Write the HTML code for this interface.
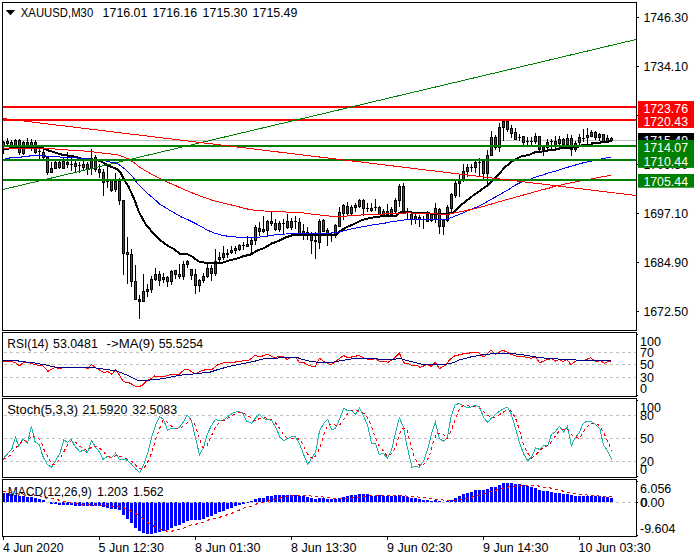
<!DOCTYPE html>
<html><head><meta charset="utf-8"><title>XAUUSD M30</title>
<style>html,body{margin:0;padding:0;background:#fff;}svg{display:block;}</style></head>
<body>
<svg width="700" height="560" viewBox="0 0 700 560" font-family="Liberation Sans, sans-serif" font-size="12.5px">
<rect x="0" y="0" width="700" height="560" fill="#fff"/>
<g shape-rendering="crispEdges">
<rect x="3" y="140" width="633" height="1" fill="#c0c0c0"/>
</g>
<g shape-rendering="crispEdges">
<rect x="3" y="141" width="1" height="7" fill="#000"/>
<rect x="3" y="142" width="2" height="5" fill="#000"/>
<rect x="3" y="143" width="1" height="3" fill="#ff0000"/>
<rect x="7" y="138" width="1" height="7" fill="#000"/>
<rect x="6" y="141" width="3" height="3" fill="#000"/>
<rect x="7" y="142" width="1" height="1" fill="#008000"/>
<rect x="11" y="140" width="1" height="6" fill="#000"/>
<rect x="10" y="142" width="3" height="4" fill="#000"/>
<rect x="11" y="143" width="1" height="2" fill="#ff0000"/>
<rect x="15" y="139" width="1" height="7" fill="#000"/>
<rect x="14" y="140" width="3" height="6" fill="#000"/>
<rect x="15" y="141" width="1" height="4" fill="#008000"/>
<rect x="19" y="139" width="1" height="16" fill="#000"/>
<rect x="18" y="140" width="3" height="13" fill="#000"/>
<rect x="19" y="141" width="1" height="11" fill="#ff0000"/>
<rect x="23" y="141" width="1" height="14" fill="#000"/>
<rect x="22" y="142" width="3" height="12" fill="#000"/>
<rect x="23" y="143" width="1" height="10" fill="#008000"/>
<rect x="27" y="138" width="1" height="8" fill="#000"/>
<rect x="26" y="142" width="3" height="4" fill="#000"/>
<rect x="27" y="143" width="1" height="2" fill="#ff0000"/>
<rect x="31" y="139" width="1" height="12" fill="#000"/>
<rect x="30" y="142" width="3" height="4" fill="#000"/>
<rect x="31" y="143" width="1" height="2" fill="#008000"/>
<rect x="35" y="140" width="1" height="14" fill="#000"/>
<rect x="34" y="142" width="3" height="11" fill="#000"/>
<rect x="35" y="143" width="1" height="9" fill="#ff0000"/>
<rect x="39" y="148" width="1" height="12" fill="#000"/>
<rect x="38" y="151" width="3" height="1" fill="#000"/>
<rect x="43" y="149" width="1" height="10" fill="#000"/>
<rect x="42" y="152" width="3" height="6" fill="#000"/>
<rect x="43" y="153" width="1" height="4" fill="#ff0000"/>
<rect x="47" y="156" width="1" height="19" fill="#000"/>
<rect x="46" y="157" width="3" height="16" fill="#000"/>
<rect x="47" y="158" width="1" height="14" fill="#ff0000"/>
<rect x="51" y="162" width="1" height="11" fill="#000"/>
<rect x="50" y="168" width="3" height="5" fill="#000"/>
<rect x="51" y="169" width="1" height="3" fill="#008000"/>
<rect x="55" y="161" width="1" height="8" fill="#000"/>
<rect x="54" y="162" width="3" height="7" fill="#000"/>
<rect x="55" y="163" width="1" height="5" fill="#008000"/>
<rect x="59" y="161" width="1" height="8" fill="#000"/>
<rect x="58" y="162" width="3" height="6" fill="#000"/>
<rect x="59" y="163" width="1" height="4" fill="#ff0000"/>
<rect x="63" y="158" width="1" height="11" fill="#000"/>
<rect x="62" y="161" width="3" height="8" fill="#000"/>
<rect x="63" y="162" width="1" height="6" fill="#008000"/>
<rect x="67" y="152" width="1" height="16" fill="#000"/>
<rect x="66" y="162" width="3" height="3" fill="#000"/>
<rect x="67" y="163" width="1" height="1" fill="#ff0000"/>
<rect x="71" y="158" width="1" height="13" fill="#000"/>
<rect x="70" y="164" width="3" height="1" fill="#000"/>
<rect x="75" y="161" width="1" height="11" fill="#000"/>
<rect x="74" y="163" width="3" height="4" fill="#000"/>
<rect x="75" y="164" width="1" height="2" fill="#ff0000"/>
<rect x="79" y="162" width="1" height="11" fill="#000"/>
<rect x="78" y="165" width="3" height="1" fill="#000"/>
<rect x="83" y="161" width="1" height="10" fill="#000"/>
<rect x="82" y="164" width="3" height="4" fill="#000"/>
<rect x="83" y="165" width="1" height="2" fill="#008000"/>
<rect x="87" y="162" width="1" height="13" fill="#000"/>
<rect x="86" y="164" width="3" height="6" fill="#000"/>
<rect x="87" y="165" width="1" height="4" fill="#ff0000"/>
<rect x="91" y="149" width="1" height="26" fill="#000"/>
<rect x="90" y="158" width="3" height="11" fill="#000"/>
<rect x="91" y="159" width="1" height="9" fill="#008000"/>
<rect x="95" y="155" width="1" height="17" fill="#000"/>
<rect x="94" y="157" width="3" height="13" fill="#000"/>
<rect x="95" y="158" width="1" height="11" fill="#ff0000"/>
<rect x="99" y="164" width="1" height="14" fill="#000"/>
<rect x="98" y="169" width="3" height="4" fill="#000"/>
<rect x="99" y="170" width="1" height="2" fill="#ff0000"/>
<rect x="103" y="169" width="1" height="27" fill="#000"/>
<rect x="102" y="172" width="3" height="11" fill="#000"/>
<rect x="103" y="173" width="1" height="9" fill="#ff0000"/>
<rect x="107" y="166" width="1" height="22" fill="#000"/>
<rect x="106" y="181" width="3" height="1" fill="#000"/>
<rect x="111" y="180" width="1" height="12" fill="#000"/>
<rect x="110" y="180" width="3" height="11" fill="#000"/>
<rect x="111" y="181" width="1" height="9" fill="#ff0000"/>
<rect x="115" y="173" width="1" height="19" fill="#000"/>
<rect x="114" y="181" width="3" height="9" fill="#000"/>
<rect x="115" y="182" width="1" height="7" fill="#008000"/>
<rect x="119" y="178" width="1" height="27" fill="#000"/>
<rect x="118" y="181" width="3" height="20" fill="#000"/>
<rect x="119" y="182" width="1" height="18" fill="#ff0000"/>
<rect x="123" y="200" width="1" height="75" fill="#000"/>
<rect x="122" y="200" width="3" height="54" fill="#000"/>
<rect x="123" y="201" width="1" height="52" fill="#ff0000"/>
<rect x="127" y="237" width="1" height="47" fill="#000"/>
<rect x="126" y="252" width="3" height="3" fill="#000"/>
<rect x="127" y="253" width="1" height="1" fill="#ff0000"/>
<rect x="131" y="249" width="1" height="38" fill="#000"/>
<rect x="130" y="254" width="3" height="28" fill="#000"/>
<rect x="131" y="255" width="1" height="26" fill="#ff0000"/>
<rect x="135" y="265" width="1" height="35" fill="#000"/>
<rect x="134" y="281" width="3" height="19" fill="#000"/>
<rect x="135" y="282" width="1" height="17" fill="#ff0000"/>
<rect x="139" y="295" width="1" height="24" fill="#000"/>
<rect x="138" y="299" width="3" height="3" fill="#000"/>
<rect x="139" y="300" width="1" height="1" fill="#ff0000"/>
<rect x="143" y="274" width="1" height="28" fill="#000"/>
<rect x="142" y="291" width="3" height="11" fill="#000"/>
<rect x="143" y="292" width="1" height="9" fill="#008000"/>
<rect x="147" y="284" width="1" height="13" fill="#000"/>
<rect x="146" y="289" width="3" height="3" fill="#000"/>
<rect x="147" y="290" width="1" height="1" fill="#008000"/>
<rect x="151" y="276" width="1" height="17" fill="#000"/>
<rect x="150" y="279" width="3" height="11" fill="#000"/>
<rect x="151" y="280" width="1" height="9" fill="#008000"/>
<rect x="155" y="268" width="1" height="13" fill="#000"/>
<rect x="154" y="274" width="3" height="6" fill="#000"/>
<rect x="155" y="275" width="1" height="4" fill="#008000"/>
<rect x="159" y="271" width="1" height="15" fill="#000"/>
<rect x="158" y="274" width="3" height="7" fill="#000"/>
<rect x="159" y="275" width="1" height="5" fill="#ff0000"/>
<rect x="163" y="273" width="1" height="10" fill="#000"/>
<rect x="162" y="277" width="3" height="3" fill="#000"/>
<rect x="163" y="278" width="1" height="1" fill="#008000"/>
<rect x="167" y="276" width="1" height="11" fill="#000"/>
<rect x="166" y="277" width="3" height="5" fill="#000"/>
<rect x="167" y="278" width="1" height="3" fill="#ff0000"/>
<rect x="171" y="270" width="1" height="15" fill="#000"/>
<rect x="170" y="271" width="3" height="11" fill="#000"/>
<rect x="171" y="272" width="1" height="9" fill="#008000"/>
<rect x="175" y="270" width="1" height="9" fill="#000"/>
<rect x="174" y="270" width="3" height="5" fill="#000"/>
<rect x="175" y="271" width="1" height="3" fill="#ff0000"/>
<rect x="179" y="264" width="1" height="15" fill="#000"/>
<rect x="178" y="274" width="3" height="3" fill="#000"/>
<rect x="179" y="275" width="1" height="1" fill="#ff0000"/>
<rect x="183" y="261" width="1" height="19" fill="#000"/>
<rect x="182" y="264" width="3" height="13" fill="#000"/>
<rect x="183" y="265" width="1" height="11" fill="#008000"/>
<rect x="187" y="260" width="1" height="8" fill="#000"/>
<rect x="186" y="261" width="3" height="4" fill="#000"/>
<rect x="187" y="262" width="1" height="2" fill="#008000"/>
<rect x="191" y="269" width="1" height="11" fill="#000"/>
<rect x="190" y="269" width="3" height="7" fill="#000"/>
<rect x="191" y="270" width="1" height="5" fill="#ff0000"/>
<rect x="195" y="269" width="1" height="25" fill="#000"/>
<rect x="194" y="274" width="3" height="12" fill="#000"/>
<rect x="195" y="275" width="1" height="10" fill="#ff0000"/>
<rect x="199" y="279" width="1" height="13" fill="#000"/>
<rect x="198" y="280" width="3" height="6" fill="#000"/>
<rect x="199" y="281" width="1" height="4" fill="#008000"/>
<rect x="203" y="273" width="1" height="10" fill="#000"/>
<rect x="202" y="276" width="3" height="5" fill="#000"/>
<rect x="203" y="277" width="1" height="3" fill="#008000"/>
<rect x="207" y="264" width="1" height="14" fill="#000"/>
<rect x="206" y="268" width="3" height="9" fill="#000"/>
<rect x="207" y="269" width="1" height="7" fill="#008000"/>
<rect x="211" y="265" width="1" height="16" fill="#000"/>
<rect x="210" y="268" width="3" height="6" fill="#000"/>
<rect x="211" y="269" width="1" height="4" fill="#ff0000"/>
<rect x="215" y="249" width="1" height="27" fill="#000"/>
<rect x="214" y="261" width="3" height="13" fill="#000"/>
<rect x="215" y="262" width="1" height="11" fill="#008000"/>
<rect x="219" y="252" width="1" height="10" fill="#000"/>
<rect x="218" y="257" width="3" height="3" fill="#000"/>
<rect x="219" y="258" width="1" height="1" fill="#008000"/>
<rect x="223" y="246" width="1" height="14" fill="#000"/>
<rect x="222" y="253" width="3" height="5" fill="#000"/>
<rect x="223" y="254" width="1" height="3" fill="#008000"/>
<rect x="227" y="249" width="1" height="9" fill="#000"/>
<rect x="226" y="253" width="3" height="2" fill="#000"/>
<rect x="231" y="246" width="1" height="8" fill="#000"/>
<rect x="230" y="250" width="3" height="3" fill="#000"/>
<rect x="231" y="251" width="1" height="1" fill="#008000"/>
<rect x="235" y="246" width="1" height="8" fill="#000"/>
<rect x="234" y="248" width="3" height="3" fill="#000"/>
<rect x="235" y="249" width="1" height="1" fill="#008000"/>
<rect x="239" y="244" width="1" height="7" fill="#000"/>
<rect x="238" y="245" width="3" height="5" fill="#000"/>
<rect x="239" y="246" width="1" height="3" fill="#008000"/>
<rect x="243" y="242" width="1" height="8" fill="#000"/>
<rect x="242" y="245" width="3" height="1" fill="#000"/>
<rect x="247" y="236" width="1" height="11" fill="#000"/>
<rect x="246" y="244" width="3" height="3" fill="#000"/>
<rect x="247" y="245" width="1" height="1" fill="#008000"/>
<rect x="251" y="238" width="1" height="17" fill="#000"/>
<rect x="250" y="240" width="3" height="5" fill="#000"/>
<rect x="251" y="241" width="1" height="3" fill="#008000"/>
<rect x="255" y="225" width="1" height="20" fill="#000"/>
<rect x="254" y="227" width="3" height="14" fill="#000"/>
<rect x="255" y="228" width="1" height="12" fill="#008000"/>
<rect x="259" y="222" width="1" height="14" fill="#000"/>
<rect x="258" y="228" width="3" height="4" fill="#000"/>
<rect x="259" y="229" width="1" height="2" fill="#ff0000"/>
<rect x="263" y="216" width="1" height="17" fill="#000"/>
<rect x="262" y="229" width="3" height="3" fill="#000"/>
<rect x="263" y="230" width="1" height="1" fill="#008000"/>
<rect x="267" y="220" width="1" height="17" fill="#000"/>
<rect x="266" y="221" width="3" height="10" fill="#000"/>
<rect x="267" y="222" width="1" height="8" fill="#008000"/>
<rect x="271" y="212" width="1" height="14" fill="#000"/>
<rect x="270" y="221" width="3" height="3" fill="#000"/>
<rect x="271" y="222" width="1" height="1" fill="#ff0000"/>
<rect x="275" y="219" width="1" height="12" fill="#000"/>
<rect x="274" y="223" width="3" height="7" fill="#000"/>
<rect x="275" y="224" width="1" height="5" fill="#ff0000"/>
<rect x="279" y="221" width="1" height="11" fill="#000"/>
<rect x="278" y="223" width="3" height="7" fill="#000"/>
<rect x="279" y="224" width="1" height="5" fill="#008000"/>
<rect x="283" y="219" width="1" height="16" fill="#000"/>
<rect x="282" y="223" width="3" height="1" fill="#000"/>
<rect x="287" y="214" width="1" height="15" fill="#000"/>
<rect x="286" y="221" width="3" height="7" fill="#000"/>
<rect x="287" y="222" width="1" height="5" fill="#ff0000"/>
<rect x="291" y="218" width="1" height="12" fill="#000"/>
<rect x="290" y="221" width="3" height="7" fill="#000"/>
<rect x="291" y="222" width="1" height="5" fill="#008000"/>
<rect x="295" y="216" width="1" height="13" fill="#000"/>
<rect x="294" y="221" width="3" height="1" fill="#000"/>
<rect x="299" y="218" width="1" height="16" fill="#000"/>
<rect x="298" y="222" width="3" height="12" fill="#000"/>
<rect x="299" y="223" width="1" height="10" fill="#ff0000"/>
<rect x="303" y="224" width="1" height="16" fill="#000"/>
<rect x="302" y="231" width="3" height="3" fill="#000"/>
<rect x="303" y="232" width="1" height="1" fill="#ff0000"/>
<rect x="307" y="227" width="1" height="13" fill="#000"/>
<rect x="306" y="232" width="3" height="4" fill="#000"/>
<rect x="307" y="233" width="1" height="2" fill="#ff0000"/>
<rect x="311" y="232" width="1" height="22" fill="#000"/>
<rect x="310" y="235" width="3" height="6" fill="#000"/>
<rect x="311" y="236" width="1" height="4" fill="#ff0000"/>
<rect x="315" y="232" width="1" height="27" fill="#000"/>
<rect x="314" y="240" width="3" height="2" fill="#000"/>
<rect x="319" y="219" width="1" height="30" fill="#000"/>
<rect x="318" y="221" width="3" height="22" fill="#000"/>
<rect x="319" y="222" width="1" height="20" fill="#008000"/>
<rect x="323" y="219" width="1" height="13" fill="#000"/>
<rect x="322" y="220" width="3" height="12" fill="#000"/>
<rect x="323" y="221" width="1" height="10" fill="#ff0000"/>
<rect x="327" y="228" width="1" height="18" fill="#000"/>
<rect x="326" y="230" width="3" height="5" fill="#000"/>
<rect x="327" y="231" width="1" height="3" fill="#ff0000"/>
<rect x="331" y="232" width="1" height="10" fill="#000"/>
<rect x="330" y="235" width="3" height="1" fill="#000"/>
<rect x="335" y="224" width="1" height="14" fill="#000"/>
<rect x="334" y="225" width="3" height="11" fill="#000"/>
<rect x="335" y="226" width="1" height="9" fill="#008000"/>
<rect x="339" y="207" width="1" height="20" fill="#000"/>
<rect x="338" y="212" width="3" height="15" fill="#000"/>
<rect x="339" y="213" width="1" height="13" fill="#008000"/>
<rect x="343" y="204" width="1" height="16" fill="#000"/>
<rect x="342" y="205" width="3" height="9" fill="#000"/>
<rect x="343" y="206" width="1" height="7" fill="#008000"/>
<rect x="347" y="202" width="1" height="14" fill="#000"/>
<rect x="346" y="206" width="3" height="8" fill="#000"/>
<rect x="347" y="207" width="1" height="6" fill="#ff0000"/>
<rect x="351" y="205" width="1" height="11" fill="#000"/>
<rect x="350" y="207" width="3" height="7" fill="#000"/>
<rect x="351" y="208" width="1" height="5" fill="#008000"/>
<rect x="355" y="203" width="1" height="9" fill="#000"/>
<rect x="354" y="205" width="3" height="3" fill="#000"/>
<rect x="355" y="206" width="1" height="1" fill="#008000"/>
<rect x="359" y="199" width="1" height="9" fill="#000"/>
<rect x="358" y="200" width="3" height="7" fill="#000"/>
<rect x="359" y="201" width="1" height="5" fill="#008000"/>
<rect x="363" y="199" width="1" height="17" fill="#000"/>
<rect x="362" y="200" width="3" height="9" fill="#000"/>
<rect x="363" y="201" width="1" height="7" fill="#ff0000"/>
<rect x="367" y="203" width="1" height="9" fill="#000"/>
<rect x="366" y="208" width="3" height="1" fill="#000"/>
<rect x="371" y="203" width="1" height="9" fill="#000"/>
<rect x="370" y="208" width="3" height="3" fill="#000"/>
<rect x="371" y="209" width="1" height="1" fill="#ff0000"/>
<rect x="375" y="199" width="1" height="12" fill="#000"/>
<rect x="374" y="207" width="3" height="1" fill="#000"/>
<rect x="379" y="206" width="1" height="9" fill="#000"/>
<rect x="378" y="207" width="3" height="8" fill="#000"/>
<rect x="379" y="208" width="1" height="6" fill="#ff0000"/>
<rect x="383" y="209" width="1" height="6" fill="#000"/>
<rect x="382" y="211" width="3" height="4" fill="#000"/>
<rect x="383" y="212" width="1" height="2" fill="#008000"/>
<rect x="387" y="204" width="1" height="11" fill="#000"/>
<rect x="386" y="211" width="3" height="4" fill="#000"/>
<rect x="387" y="212" width="1" height="2" fill="#ff0000"/>
<rect x="391" y="207" width="1" height="8" fill="#000"/>
<rect x="390" y="209" width="3" height="6" fill="#000"/>
<rect x="391" y="210" width="1" height="4" fill="#008000"/>
<rect x="395" y="198" width="1" height="16" fill="#000"/>
<rect x="394" y="200" width="3" height="12" fill="#000"/>
<rect x="395" y="201" width="1" height="10" fill="#008000"/>
<rect x="399" y="184" width="1" height="23" fill="#000"/>
<rect x="398" y="186" width="3" height="15" fill="#000"/>
<rect x="399" y="187" width="1" height="13" fill="#008000"/>
<rect x="403" y="183" width="1" height="29" fill="#000"/>
<rect x="402" y="186" width="3" height="26" fill="#000"/>
<rect x="403" y="187" width="1" height="24" fill="#ff0000"/>
<rect x="407" y="208" width="1" height="12" fill="#000"/>
<rect x="406" y="211" width="3" height="1" fill="#000"/>
<rect x="411" y="212" width="1" height="13" fill="#000"/>
<rect x="410" y="214" width="3" height="6" fill="#000"/>
<rect x="411" y="215" width="1" height="4" fill="#ff0000"/>
<rect x="415" y="214" width="1" height="10" fill="#000"/>
<rect x="414" y="216" width="3" height="4" fill="#000"/>
<rect x="415" y="217" width="1" height="2" fill="#008000"/>
<rect x="419" y="215" width="1" height="12" fill="#000"/>
<rect x="418" y="217" width="3" height="3" fill="#000"/>
<rect x="419" y="218" width="1" height="1" fill="#ff0000"/>
<rect x="423" y="216" width="1" height="13" fill="#000"/>
<rect x="422" y="219" width="3" height="1" fill="#000"/>
<rect x="427" y="211" width="1" height="11" fill="#000"/>
<rect x="426" y="214" width="3" height="8" fill="#000"/>
<rect x="427" y="215" width="1" height="6" fill="#008000"/>
<rect x="431" y="213" width="1" height="9" fill="#000"/>
<rect x="430" y="214" width="3" height="7" fill="#000"/>
<rect x="431" y="215" width="1" height="5" fill="#ff0000"/>
<rect x="435" y="203" width="1" height="20" fill="#000"/>
<rect x="434" y="208" width="3" height="12" fill="#000"/>
<rect x="435" y="209" width="1" height="10" fill="#008000"/>
<rect x="439" y="208" width="1" height="26" fill="#000"/>
<rect x="438" y="209" width="3" height="18" fill="#000"/>
<rect x="439" y="210" width="1" height="16" fill="#ff0000"/>
<rect x="443" y="219" width="1" height="16" fill="#000"/>
<rect x="442" y="220" width="3" height="7" fill="#000"/>
<rect x="443" y="221" width="1" height="5" fill="#008000"/>
<rect x="447" y="205" width="1" height="17" fill="#000"/>
<rect x="446" y="207" width="3" height="14" fill="#000"/>
<rect x="447" y="208" width="1" height="12" fill="#008000"/>
<rect x="451" y="193" width="1" height="19" fill="#000"/>
<rect x="450" y="194" width="3" height="15" fill="#000"/>
<rect x="451" y="195" width="1" height="13" fill="#008000"/>
<rect x="455" y="181" width="1" height="17" fill="#000"/>
<rect x="454" y="183" width="3" height="13" fill="#000"/>
<rect x="455" y="184" width="1" height="11" fill="#008000"/>
<rect x="459" y="174" width="1" height="23" fill="#000"/>
<rect x="458" y="179" width="3" height="5" fill="#000"/>
<rect x="459" y="180" width="1" height="3" fill="#008000"/>
<rect x="463" y="164" width="1" height="18" fill="#000"/>
<rect x="462" y="171" width="3" height="10" fill="#000"/>
<rect x="463" y="172" width="1" height="8" fill="#008000"/>
<rect x="467" y="164" width="1" height="13" fill="#000"/>
<rect x="466" y="167" width="3" height="5" fill="#000"/>
<rect x="467" y="168" width="1" height="3" fill="#008000"/>
<rect x="471" y="164" width="1" height="8" fill="#000"/>
<rect x="470" y="167" width="3" height="1" fill="#000"/>
<rect x="475" y="161" width="1" height="12" fill="#000"/>
<rect x="474" y="162" width="3" height="6" fill="#000"/>
<rect x="475" y="163" width="1" height="4" fill="#008000"/>
<rect x="479" y="158" width="1" height="19" fill="#000"/>
<rect x="478" y="162" width="3" height="1" fill="#000"/>
<rect x="483" y="160" width="1" height="20" fill="#000"/>
<rect x="482" y="161" width="3" height="13" fill="#000"/>
<rect x="483" y="162" width="1" height="11" fill="#ff0000"/>
<rect x="487" y="150" width="1" height="37" fill="#000"/>
<rect x="486" y="155" width="3" height="19" fill="#000"/>
<rect x="487" y="156" width="1" height="17" fill="#008000"/>
<rect x="491" y="131" width="1" height="25" fill="#000"/>
<rect x="490" y="137" width="3" height="19" fill="#000"/>
<rect x="491" y="138" width="1" height="17" fill="#008000"/>
<rect x="495" y="135" width="1" height="15" fill="#000"/>
<rect x="494" y="137" width="3" height="11" fill="#000"/>
<rect x="495" y="138" width="1" height="9" fill="#ff0000"/>
<rect x="499" y="123" width="1" height="29" fill="#000"/>
<rect x="498" y="127" width="3" height="21" fill="#000"/>
<rect x="499" y="128" width="1" height="19" fill="#008000"/>
<rect x="503" y="121" width="1" height="20" fill="#000"/>
<rect x="502" y="121" width="3" height="7" fill="#000"/>
<rect x="503" y="122" width="1" height="5" fill="#008000"/>
<rect x="507" y="121" width="1" height="11" fill="#000"/>
<rect x="506" y="121" width="3" height="9" fill="#000"/>
<rect x="507" y="122" width="1" height="7" fill="#ff0000"/>
<rect x="511" y="125" width="1" height="13" fill="#000"/>
<rect x="510" y="128" width="3" height="6" fill="#000"/>
<rect x="511" y="129" width="1" height="4" fill="#ff0000"/>
<rect x="515" y="128" width="1" height="12" fill="#000"/>
<rect x="514" y="132" width="3" height="8" fill="#000"/>
<rect x="515" y="133" width="1" height="6" fill="#ff0000"/>
<rect x="519" y="134" width="1" height="7" fill="#000"/>
<rect x="518" y="137" width="3" height="1" fill="#000"/>
<rect x="523" y="136" width="1" height="10" fill="#000"/>
<rect x="522" y="136" width="3" height="7" fill="#000"/>
<rect x="523" y="137" width="1" height="5" fill="#ff0000"/>
<rect x="527" y="137" width="1" height="9" fill="#000"/>
<rect x="526" y="141" width="3" height="1" fill="#000"/>
<rect x="531" y="137" width="1" height="9" fill="#000"/>
<rect x="530" y="141" width="3" height="1" fill="#000"/>
<rect x="535" y="133" width="1" height="11" fill="#000"/>
<rect x="534" y="136" width="3" height="6" fill="#000"/>
<rect x="535" y="137" width="1" height="4" fill="#008000"/>
<rect x="539" y="136" width="1" height="16" fill="#000"/>
<rect x="538" y="136" width="3" height="14" fill="#000"/>
<rect x="539" y="137" width="1" height="12" fill="#ff0000"/>
<rect x="543" y="146" width="1" height="10" fill="#000"/>
<rect x="542" y="147" width="3" height="3" fill="#000"/>
<rect x="543" y="148" width="1" height="1" fill="#008000"/>
<rect x="547" y="139" width="1" height="11" fill="#000"/>
<rect x="546" y="142" width="3" height="6" fill="#000"/>
<rect x="547" y="143" width="1" height="4" fill="#008000"/>
<rect x="551" y="139" width="1" height="10" fill="#000"/>
<rect x="550" y="141" width="3" height="1" fill="#000"/>
<rect x="555" y="136" width="1" height="14" fill="#000"/>
<rect x="554" y="141" width="3" height="5" fill="#000"/>
<rect x="555" y="142" width="1" height="3" fill="#ff0000"/>
<rect x="559" y="136" width="1" height="10" fill="#000"/>
<rect x="558" y="139" width="3" height="5" fill="#000"/>
<rect x="559" y="140" width="1" height="3" fill="#008000"/>
<rect x="563" y="138" width="1" height="8" fill="#000"/>
<rect x="562" y="139" width="3" height="6" fill="#000"/>
<rect x="563" y="140" width="1" height="4" fill="#ff0000"/>
<rect x="567" y="134" width="1" height="12" fill="#000"/>
<rect x="566" y="138" width="3" height="7" fill="#000"/>
<rect x="567" y="139" width="1" height="5" fill="#008000"/>
<rect x="571" y="135" width="1" height="21" fill="#000"/>
<rect x="570" y="138" width="3" height="12" fill="#000"/>
<rect x="571" y="139" width="1" height="10" fill="#ff0000"/>
<rect x="575" y="141" width="1" height="11" fill="#000"/>
<rect x="574" y="143" width="3" height="7" fill="#000"/>
<rect x="575" y="144" width="1" height="5" fill="#008000"/>
<rect x="579" y="134" width="1" height="12" fill="#000"/>
<rect x="578" y="137" width="3" height="6" fill="#000"/>
<rect x="579" y="138" width="1" height="4" fill="#008000"/>
<rect x="583" y="129" width="1" height="13" fill="#000"/>
<rect x="582" y="138" width="3" height="1" fill="#000"/>
<rect x="587" y="128" width="1" height="16" fill="#000"/>
<rect x="586" y="135" width="3" height="3" fill="#000"/>
<rect x="587" y="136" width="1" height="1" fill="#008000"/>
<rect x="591" y="130" width="1" height="7" fill="#000"/>
<rect x="590" y="132" width="3" height="5" fill="#000"/>
<rect x="591" y="133" width="1" height="3" fill="#008000"/>
<rect x="595" y="131" width="1" height="9" fill="#000"/>
<rect x="594" y="132" width="3" height="6" fill="#000"/>
<rect x="595" y="133" width="1" height="4" fill="#ff0000"/>
<rect x="599" y="133" width="1" height="8" fill="#000"/>
<rect x="598" y="134" width="3" height="4" fill="#000"/>
<rect x="599" y="135" width="1" height="2" fill="#008000"/>
<rect x="603" y="134" width="1" height="8" fill="#000"/>
<rect x="602" y="134" width="3" height="8" fill="#000"/>
<rect x="603" y="135" width="1" height="6" fill="#ff0000"/>
<rect x="607" y="135" width="1" height="7" fill="#000"/>
<rect x="606" y="138" width="3" height="4" fill="#000"/>
<rect x="607" y="139" width="1" height="2" fill="#008000"/>
<rect x="611" y="137" width="1" height="4" fill="#000"/>
<rect x="610" y="138" width="3" height="3" fill="#000"/>
<rect x="611" y="139" width="1" height="1" fill="#ff0000"/>
</g>
<g shape-rendering="crispEdges" stroke-linejoin="round">
<polyline points="9.0,148.0 43.0,148.0 47.0,150.0 55.0,152.5 63.0,155.0 71.4,156.0 82.9,158.9 94.3,159.7 100.0,161.0 105.7,164.0 111.4,166.9 117.0,169.0 120.6,172.6 124.3,180.0 128.6,186.9 131.4,192.9 135.0,201.0 138.6,211.4 145.7,224.3 152.9,232.9 160.0,240.0 167.0,245.3 174.3,249.3 180.0,253.9 187.0,253.9 192.9,257.0 198.6,261.4 204.3,262.6 214.3,262.6 221.4,262.9 228.6,260.7 235.7,258.9 242.9,256.4 251.4,254.3 257.0,250.7 264.3,247.9 271.4,243.6 278.6,241.0 285.7,237.4 292.9,235.0 302.9,234.8 318.6,235.0 335.7,234.8 340.0,231.0 347.0,226.9 354.3,224.0 361.4,220.3 368.6,218.3 375.7,216.9 382.9,216.2 395.7,216.2 397.5,214.0 401.4,211.8 408.6,212.3 420.0,213.0 430.0,213.5 448.6,213.8 454.3,212.0 460.0,205.7 465.7,201.4 472.9,195.7 480.0,190.7 487.0,185.7 492.9,180.7 498.6,174.3 504.3,167.9 510.0,162.9 515.7,159.3 521.4,156.4 528.6,155.0 535.7,152.0 542.9,151.4 550.0,150.0 554.3,150.0 561.4,148.0 568.6,147.9 578.6,146.7 582.9,145.0 591.5,144.5 592.0,143.3 600.0,143.0 600.5,142.0 608.0,142.0 608.5,141.0 612.0,141.0" fill="none" stroke="#000" stroke-width="2" />
<rect x="3" y="149" width="6" height="1" fill="#000"/>
<rect x="3" y="149" width="1" height="5" fill="#000"/>
<polyline points="3.0,159.5 5.0,159.5 5.2,158.5 9.0,158.5 9.2,157.5 21.0,157.5 21.2,156.5 29.0,156.5 29.2,155.5 45.0,155.5 45.2,156.5 56.0,156.5 62.0,157.2 71.4,157.7 82.9,158.3 95.0,159.5 105.7,161.0 117.0,163.4 120.6,165.7 126.3,170.3 133.0,177.0 137.0,182.9 145.7,192.0 152.9,197.9 160.0,204.3 167.0,208.6 174.3,212.9 181.4,217.0 188.6,220.0 195.7,223.6 202.9,227.5 207.0,230.0 214.3,233.0 221.4,235.0 228.6,236.4 235.7,237.0 242.9,237.6 250.0,237.6 257.0,237.4 264.3,236.4 271.4,235.4 278.6,234.3 285.7,234.0 292.9,233.3 304.3,233.3 318.6,233.3 335.7,232.9 347.0,230.0 354.3,228.3 361.4,226.9 368.6,225.7 375.7,224.3 382.9,223.6 390.0,222.0 394.3,221.4 408.6,219.3 422.9,220.0 437.0,219.7 447.0,219.3 454.3,216.4 462.9,212.9 471.4,209.3 480.0,205.7 490.0,200.0 500.0,194.5 507.9,190.0 514.3,185.7 521.4,182.0 528.6,180.0 535.7,177.0 542.9,175.0 550.0,172.4 554.3,171.4 568.6,167.0 582.9,162.9 592.9,160.7 605.0,158.3 610.7,157.0" fill="none" stroke="#0000ff" stroke-width="1" />
<polyline points="3.0,148.5 43.0,148.5 50.0,148.8 55.0,149.0 62.0,149.5 71.4,150.3 82.9,150.9 94.3,152.0 105.7,153.5 117.0,154.6 122.9,156.6 128.6,158.9 134.3,162.9 140.0,167.4 144.3,170.0 152.9,175.0 160.0,178.6 167.0,182.0 174.3,185.0 181.4,188.3 188.6,191.4 195.7,194.3 202.9,196.9 211.4,200.0 221.4,202.6 228.6,204.3 235.7,206.0 242.9,207.9 250.0,209.6 257.0,210.7 264.3,211.0 271.4,211.4 278.6,211.7 285.7,212.0 292.9,212.6 301.4,212.6 311.4,214.0 325.7,215.7 335.7,216.7 347.0,216.0 361.4,215.0 375.7,214.3 390.0,213.8 408.6,212.9 422.9,213.6 437.0,214.0 448.6,214.0 458.6,212.0 468.6,210.0 480.0,207.4 500.0,201.5 520.0,196.0 541.4,190.0 550.0,187.9 554.3,186.4 568.6,183.3 580.0,181.0 592.9,178.6 610.7,175.3" fill="none" stroke="#ff0000" stroke-width="1" />
</g>
<g shape-rendering="crispEdges">
<rect x="3" y="106" width="633" height="2" fill="#ff0000"/>
<rect x="3" y="119" width="633" height="2" fill="#ff0000"/>
<rect x="3" y="145" width="633" height="2" fill="#008000"/>
<rect x="3" y="159" width="633" height="2" fill="#008000"/>
<rect x="3" y="179" width="633" height="2" fill="#008000"/>
<polyline points="3.0,189.5 636.0,39.5" fill="none" stroke="#008000" stroke-width="1" />
<polyline points="3.0,118.5 636.0,195.5" fill="none" stroke="#ff0000" stroke-width="1" />
</g>
<line x1="4" y1="352.5" x2="636" y2="352.5" stroke="#c0c0c0" stroke-width="1" stroke-dasharray="3,3" shape-rendering="crispEdges"/>
<line x1="4" y1="364.5" x2="636" y2="364.5" stroke="#c0c0c0" stroke-width="1" stroke-dasharray="3,3" shape-rendering="crispEdges"/>
<line x1="4" y1="377.5" x2="636" y2="377.5" stroke="#c0c0c0" stroke-width="1" stroke-dasharray="3,3" shape-rendering="crispEdges"/>
<g shape-rendering="crispEdges">
<polyline points="2.7,361.7 9.0,361.0 16.0,362.9 19.4,365.8 22.9,362.9 29.7,362.9 36.6,365.0 42.3,365.0 48.0,371.3 54.9,367.4 60.6,369.0 61.7,367.4 75.4,368.0 84.6,367.4 88.0,369.0 91.4,364.5 96.0,368.0 104.0,372.7 107.4,371.3 112.0,374.3 115.4,369.7 118.9,374.3 123.4,381.8 129.0,382.7 137.0,386.9 141.7,385.7 146.3,381.0 150.9,378.6 154.6,376.0 159.0,377.0 166.0,376.0 170.6,374.3 178.6,374.7 184.3,369.7 187.7,369.3 192.3,372.0 195.7,373.8 201.4,370.9 207.0,369.3 211.7,369.7 217.4,365.0 223.0,362.9 232.3,362.9 238.0,361.3 248.3,360.6 255.0,355.5 259.7,357.0 267.7,354.2 274.6,357.8 279.0,356.5 283.7,356.5 287.0,359.4 290.6,357.8 296.3,357.8 299.7,362.9 303.4,362.4 309.0,365.6 314.9,367.0 319.4,358.3 324.0,361.7 330.9,365.0 336.6,360.6 343.4,355.5 348.0,357.8 353.7,356.5 359.4,355.5 364.0,358.3 370.9,360.0 375.4,358.7 380.0,361.7 384.6,361.0 388.0,362.4 393.7,358.7 399.4,353.3 404.0,362.9 408.6,364.0 413.0,365.6 416.6,365.0 420.0,367.4 426.9,364.7 431.4,366.3 435.3,362.4 439.4,368.6 445.0,365.6 450.0,359.4 454.6,356.0 463.7,353.7 472.9,352.6 478.6,352.6 483.8,357.0 491.0,350.3 495.7,354.2 502.6,350.3 507.0,351.9 510.6,354.2 516.3,356.0 525.4,357.0 531.0,358.3 535.7,357.0 539.6,362.9 546.0,360.0 551.7,358.7 555.6,361.0 559.7,359.4 563.0,361.7 566.6,359.4 571.0,364.7 575.7,361.0 584.9,360.0 590.6,357.8 596.3,361.7 600.9,360.6 604.3,363.3 607.7,361.7 611.0,361.7" fill="none" stroke="#ff0000" stroke-width="1" />
<polyline points="2.7,360.6 16.0,360.6 22.9,361.7 34.3,362.9 45.7,365.0 57.0,367.4 68.6,367.4 84.6,367.4 96.0,368.0 107.4,369.7 116.6,370.9 123.4,373.6 130.3,376.6 137.0,380.0 146.3,380.5 153.0,379.5 161.4,378.9 172.9,376.6 184.3,374.7 195.7,373.8 210.6,372.0 218.6,369.3 230.0,366.3 241.4,364.0 252.9,361.7 264.3,358.7 275.7,358.3 287.0,357.0 296.3,357.0 300.0,358.7 309.0,361.0 318.3,362.4 329.7,362.9 341.0,360.6 352.6,358.7 361.7,358.3 375.4,358.7 386.9,360.0 393.7,359.4 399.4,358.3 407.4,360.6 414.3,362.4 423.4,364.5 434.9,364.5 444.0,364.5 453.0,362.9 459.0,360.0 470.6,357.0 482.0,354.9 493.4,353.7 507.0,353.3 518.6,354.2 530.0,356.0 541.4,357.8 552.9,358.7 564.3,359.4 575.7,360.0 587.0,360.0 598.6,360.6 611.0,361.0" fill="none" stroke="#000080" stroke-width="1" />
</g>
<line x1="4" y1="415.5" x2="636" y2="415.5" stroke="#c0c0c0" stroke-width="1" stroke-dasharray="3,3" shape-rendering="crispEdges"/>
<line x1="4" y1="438.5" x2="636" y2="438.5" stroke="#c0c0c0" stroke-width="1" stroke-dasharray="3,3" shape-rendering="crispEdges"/>
<line x1="4" y1="461.5" x2="636" y2="461.5" stroke="#c0c0c0" stroke-width="1" stroke-dasharray="3,3" shape-rendering="crispEdges"/>
<g shape-rendering="crispEdges">
<polyline points="3.0,458.9 7.7,453.7 12.0,448.6 15.4,437.4 18.9,446.3 23.0,438.8 27.4,443.4 31.4,426.3 35.0,441.7 39.4,445.0 42.9,456.3 47.0,464.0 51.4,467.4 55.7,460.6 60.0,452.9 63.8,440.0 67.7,442.2 71.0,439.0 75.4,446.9 79.7,451.5 84.0,450.3 87.4,452.5 91.7,440.5 96.0,447.7 99.4,452.0 103.0,459.4 107.0,456.6 111.4,457.7 115.5,453.2 119.4,459.4 126.3,459.7 131.4,464.0 135.7,469.0 139.5,472.6 143.4,465.7 147.7,452.9 152.0,435.7 156.0,423.7 159.7,416.9 163.5,419.4 167.4,430.2 171.7,428.5 176.0,428.5 179.4,427.5 183.7,421.7 187.0,414.8 191.4,420.3 195.7,439.0 199.5,454.6 203.4,448.0 207.4,434.0 211.0,426.3 215.4,419.4 219.7,421.0 223.4,420.0 228.6,416.0 233.7,412.6 238.0,411.4 242.3,412.6 246.6,421.0 251.7,423.4 255.0,418.6 259.4,414.3 263.7,418.9 268.0,419.4 271.4,420.3 275.7,427.0 280.0,437.4 283.8,440.5 287.7,438.8 292.0,436.6 295.4,436.6 299.7,444.3 304.0,455.4 307.8,464.5 311.7,458.0 315.7,452.0 319.4,431.4 323.7,423.4 327.7,419.4 331.5,429.7 335.5,428.5 339.4,419.4 343.7,408.3 347.0,410.3 351.4,410.3 355.7,414.3 359.5,408.3 363.4,416.0 367.7,425.4 371.5,443.4 375.4,443.4 379.4,455.0 383.0,453.2 387.4,458.0 391.7,449.4 395.0,434.9 399.4,417.7 403.7,428.0 407.0,446.0 412.0,467.4 415.7,466.2 419.0,467.4 423.4,461.4 427.7,449.4 431.5,434.0 435.4,422.0 439.4,438.8 443.4,441.2 447.2,438.3 451.0,416.9 455.0,404.9 458.9,403.5 463.0,405.7 467.4,407.4 471.7,406.9 475.0,405.2 479.4,406.9 483.7,417.7 487.7,422.3 491.4,418.2 495.7,414.3 500.0,410.9 504.3,408.3 507.7,407.4 511.0,413.4 515.4,428.0 519.7,443.4 524.0,454.6 527.8,460.6 531.7,457.0 535.7,447.7 539.4,449.4 543.7,445.4 547.7,446.0 551.2,434.9 555.5,431.4 559.4,426.3 563.7,432.3 567.4,426.3 571.4,445.7 575.0,438.3 579.4,432.3 583.0,423.7 587.0,421.0 591.4,421.7 595.7,424.6 600.0,428.9 603.4,445.0 607.7,451.0 611.7,459.7" fill="none" stroke="#20b2aa" stroke-width="1" />
<polyline points="3.0,459.4 10.3,455.4 14.6,448.6 18.9,445.0 23.0,440.0 27.4,441.7 31.7,435.4 36.0,437.4 40.3,440.0 44.6,451.0 48.0,457.0 51.4,464.0 55.7,464.0 60.0,458.9 64.3,451.0 67.7,444.3 72.0,440.0 76.3,442.6 80.6,446.9 84.9,449.8 88.3,450.3 92.6,446.0 96.9,446.3 101.0,449.4 105.4,453.7 110.6,457.7 116.9,455.4 123.7,457.7 128.9,459.7 134.0,463.0 138.3,468.0 142.6,469.7 146.9,464.0 151.0,454.6 155.4,440.0 159.4,428.9 163.0,420.3 167.4,422.3 171.7,426.3 176.0,428.9 180.3,428.0 185.4,424.6 190.6,419.4 194.9,424.6 199.0,436.6 202.6,447.7 206.9,446.0 211.0,436.6 215.4,427.5 219.7,422.0 225.0,420.0 230.3,416.5 235.4,413.8 240.6,412.0 245.7,414.3 250.0,416.9 254.3,421.0 259.4,418.6 264.6,417.7 269.7,418.6 274.9,422.0 280.0,428.9 284.3,435.7 288.6,439.0 292.9,438.3 297.0,437.8 301.4,441.7 305.7,450.3 309.0,456.3 313.4,458.9 317.7,452.9 322.0,440.9 325.4,429.7 328.9,424.0 334.0,424.6 338.6,426.3 343.7,419.4 348.9,411.7 354.0,410.0 360.0,411.4 365.0,414.3 369.4,421.0 373.7,433.0 378.0,444.3 382.3,449.4 387.4,456.3 391.7,453.7 396.0,446.9 399.4,434.0 402.9,428.0 407.0,429.7 410.6,444.3 414.0,456.3 417.4,463.0 420.9,466.6 425.0,463.0 429.4,456.3 432.9,443.4 437.0,433.0 442.3,433.0 446.9,438.8 451.0,431.4 455.4,418.6 459.7,408.3 464.0,404.9 470.0,406.2 476.0,406.2 481.0,409.0 487.0,415.0 493.0,418.2 499.0,415.0 505.0,410.9 511.0,410.9 515.4,417.7 519.7,430.6 523.0,442.6 527.4,452.9 531.7,458.0 536.9,453.7 542.9,447.7 548.9,445.0 553.7,438.3 558.0,432.3 562.3,429.7 567.4,428.9 571.7,434.9 576.0,436.6 579.4,439.0 582.9,432.3 586.3,428.0 590.6,423.4 595.7,422.9 600.0,426.3 604.3,434.0 608.6,443.4 611.7,451.0" fill="none" stroke="#ff0000" stroke-width="1" stroke-dasharray="3,3"/>
</g>
<g shape-rendering="crispEdges">
<rect x="3" y="493" width="2" height="9" fill="#0000ff"/>
<rect x="6" y="493" width="3" height="9" fill="#0000ff"/>
<rect x="10" y="494" width="3" height="8" fill="#0000ff"/>
<rect x="14" y="495" width="3" height="7" fill="#0000ff"/>
<rect x="18" y="496" width="3" height="6" fill="#0000ff"/>
<rect x="22" y="496" width="3" height="6" fill="#0000ff"/>
<rect x="26" y="497" width="3" height="5" fill="#0000ff"/>
<rect x="30" y="497" width="3" height="5" fill="#0000ff"/>
<rect x="34" y="498" width="3" height="4" fill="#0000ff"/>
<rect x="38" y="499" width="3" height="3" fill="#0000ff"/>
<rect x="42" y="500" width="3" height="2" fill="#0000ff"/>
<rect x="50" y="502" width="3" height="2" fill="#0000ff"/>
<rect x="54" y="502" width="3" height="2" fill="#0000ff"/>
<rect x="58" y="502" width="3" height="3" fill="#0000ff"/>
<rect x="62" y="502" width="3" height="3" fill="#0000ff"/>
<rect x="66" y="502" width="3" height="3" fill="#0000ff"/>
<rect x="70" y="502" width="3" height="3" fill="#0000ff"/>
<rect x="74" y="502" width="3" height="4" fill="#0000ff"/>
<rect x="78" y="502" width="3" height="4" fill="#0000ff"/>
<rect x="82" y="502" width="3" height="4" fill="#0000ff"/>
<rect x="86" y="502" width="3" height="4" fill="#0000ff"/>
<rect x="90" y="502" width="3" height="4" fill="#0000ff"/>
<rect x="94" y="502" width="3" height="4" fill="#0000ff"/>
<rect x="98" y="502" width="3" height="4" fill="#0000ff"/>
<rect x="102" y="502" width="3" height="5" fill="#0000ff"/>
<rect x="106" y="502" width="3" height="6" fill="#0000ff"/>
<rect x="110" y="502" width="3" height="7" fill="#0000ff"/>
<rect x="114" y="502" width="3" height="7" fill="#0000ff"/>
<rect x="118" y="502" width="3" height="8" fill="#0000ff"/>
<rect x="122" y="502" width="3" height="13" fill="#0000ff"/>
<rect x="126" y="502" width="3" height="17" fill="#0000ff"/>
<rect x="130" y="502" width="3" height="21" fill="#0000ff"/>
<rect x="134" y="502" width="3" height="26" fill="#0000ff"/>
<rect x="138" y="502" width="3" height="29" fill="#0000ff"/>
<rect x="142" y="502" width="3" height="31" fill="#0000ff"/>
<rect x="146" y="502" width="3" height="32" fill="#0000ff"/>
<rect x="150" y="502" width="3" height="32" fill="#0000ff"/>
<rect x="154" y="502" width="3" height="31" fill="#0000ff"/>
<rect x="158" y="502" width="3" height="30" fill="#0000ff"/>
<rect x="162" y="502" width="3" height="29" fill="#0000ff"/>
<rect x="166" y="502" width="3" height="28" fill="#0000ff"/>
<rect x="170" y="502" width="3" height="26" fill="#0000ff"/>
<rect x="174" y="502" width="3" height="24" fill="#0000ff"/>
<rect x="178" y="502" width="3" height="23" fill="#0000ff"/>
<rect x="182" y="502" width="3" height="21" fill="#0000ff"/>
<rect x="186" y="502" width="3" height="19" fill="#0000ff"/>
<rect x="190" y="502" width="3" height="18" fill="#0000ff"/>
<rect x="194" y="502" width="3" height="18" fill="#0000ff"/>
<rect x="198" y="502" width="3" height="18" fill="#0000ff"/>
<rect x="202" y="502" width="3" height="17" fill="#0000ff"/>
<rect x="206" y="502" width="3" height="15" fill="#0000ff"/>
<rect x="210" y="502" width="3" height="14" fill="#0000ff"/>
<rect x="214" y="502" width="3" height="12" fill="#0000ff"/>
<rect x="218" y="502" width="3" height="10" fill="#0000ff"/>
<rect x="222" y="502" width="3" height="9" fill="#0000ff"/>
<rect x="226" y="502" width="3" height="7" fill="#0000ff"/>
<rect x="230" y="502" width="3" height="6" fill="#0000ff"/>
<rect x="234" y="502" width="3" height="4" fill="#0000ff"/>
<rect x="238" y="502" width="3" height="3" fill="#0000ff"/>
<rect x="242" y="502" width="3" height="2" fill="#0000ff"/>
<rect x="246" y="502" width="3" height="1" fill="#0000ff"/>
<rect x="250" y="501" width="3" height="1" fill="#0000ff"/>
<rect x="254" y="499" width="3" height="3" fill="#0000ff"/>
<rect x="258" y="498" width="3" height="4" fill="#0000ff"/>
<rect x="262" y="498" width="3" height="4" fill="#0000ff"/>
<rect x="266" y="496" width="3" height="6" fill="#0000ff"/>
<rect x="270" y="496" width="3" height="6" fill="#0000ff"/>
<rect x="274" y="495" width="3" height="7" fill="#0000ff"/>
<rect x="278" y="495" width="3" height="7" fill="#0000ff"/>
<rect x="282" y="495" width="3" height="7" fill="#0000ff"/>
<rect x="286" y="495" width="3" height="7" fill="#0000ff"/>
<rect x="290" y="495" width="3" height="7" fill="#0000ff"/>
<rect x="294" y="495" width="3" height="7" fill="#0000ff"/>
<rect x="298" y="496" width="3" height="6" fill="#0000ff"/>
<rect x="302" y="496" width="3" height="6" fill="#0000ff"/>
<rect x="306" y="497" width="3" height="5" fill="#0000ff"/>
<rect x="310" y="498" width="3" height="4" fill="#0000ff"/>
<rect x="314" y="499" width="3" height="3" fill="#0000ff"/>
<rect x="318" y="498" width="3" height="4" fill="#0000ff"/>
<rect x="322" y="498" width="3" height="4" fill="#0000ff"/>
<rect x="326" y="499" width="3" height="3" fill="#0000ff"/>
<rect x="330" y="499" width="3" height="3" fill="#0000ff"/>
<rect x="334" y="499" width="3" height="3" fill="#0000ff"/>
<rect x="338" y="498" width="3" height="4" fill="#0000ff"/>
<rect x="342" y="497" width="3" height="5" fill="#0000ff"/>
<rect x="346" y="496" width="3" height="6" fill="#0000ff"/>
<rect x="350" y="495" width="3" height="7" fill="#0000ff"/>
<rect x="354" y="495" width="3" height="7" fill="#0000ff"/>
<rect x="358" y="494" width="3" height="8" fill="#0000ff"/>
<rect x="362" y="494" width="3" height="8" fill="#0000ff"/>
<rect x="366" y="494" width="3" height="8" fill="#0000ff"/>
<rect x="370" y="496" width="3" height="6" fill="#0000ff"/>
<rect x="374" y="496" width="3" height="6" fill="#0000ff"/>
<rect x="378" y="495" width="3" height="7" fill="#0000ff"/>
<rect x="382" y="496" width="3" height="6" fill="#0000ff"/>
<rect x="386" y="496" width="3" height="6" fill="#0000ff"/>
<rect x="390" y="496" width="3" height="6" fill="#0000ff"/>
<rect x="394" y="496" width="3" height="6" fill="#0000ff"/>
<rect x="398" y="495" width="3" height="7" fill="#0000ff"/>
<rect x="402" y="496" width="3" height="6" fill="#0000ff"/>
<rect x="406" y="497" width="3" height="5" fill="#0000ff"/>
<rect x="410" y="498" width="3" height="4" fill="#0000ff"/>
<rect x="414" y="498" width="3" height="4" fill="#0000ff"/>
<rect x="418" y="499" width="3" height="3" fill="#0000ff"/>
<rect x="422" y="500" width="3" height="2" fill="#0000ff"/>
<rect x="426" y="500" width="3" height="2" fill="#0000ff"/>
<rect x="430" y="501" width="3" height="1" fill="#0000ff"/>
<rect x="434" y="500" width="3" height="2" fill="#0000ff"/>
<rect x="438" y="501" width="3" height="1" fill="#0000ff"/>
<rect x="446" y="501" width="3" height="1" fill="#0000ff"/>
<rect x="450" y="500" width="3" height="2" fill="#0000ff"/>
<rect x="454" y="498" width="3" height="4" fill="#0000ff"/>
<rect x="458" y="496" width="3" height="6" fill="#0000ff"/>
<rect x="462" y="494" width="3" height="8" fill="#0000ff"/>
<rect x="466" y="493" width="3" height="9" fill="#0000ff"/>
<rect x="470" y="492" width="3" height="10" fill="#0000ff"/>
<rect x="474" y="490" width="3" height="12" fill="#0000ff"/>
<rect x="478" y="490" width="3" height="12" fill="#0000ff"/>
<rect x="482" y="490" width="3" height="12" fill="#0000ff"/>
<rect x="486" y="489" width="3" height="13" fill="#0000ff"/>
<rect x="490" y="487" width="3" height="15" fill="#0000ff"/>
<rect x="494" y="487" width="3" height="15" fill="#0000ff"/>
<rect x="498" y="485" width="3" height="17" fill="#0000ff"/>
<rect x="502" y="483" width="3" height="19" fill="#0000ff"/>
<rect x="506" y="483" width="3" height="19" fill="#0000ff"/>
<rect x="510" y="483" width="3" height="19" fill="#0000ff"/>
<rect x="514" y="484" width="3" height="18" fill="#0000ff"/>
<rect x="518" y="484" width="3" height="18" fill="#0000ff"/>
<rect x="522" y="485" width="3" height="17" fill="#0000ff"/>
<rect x="526" y="486" width="3" height="16" fill="#0000ff"/>
<rect x="530" y="487" width="3" height="15" fill="#0000ff"/>
<rect x="534" y="488" width="3" height="14" fill="#0000ff"/>
<rect x="538" y="490" width="3" height="12" fill="#0000ff"/>
<rect x="542" y="491" width="3" height="11" fill="#0000ff"/>
<rect x="546" y="491" width="3" height="11" fill="#0000ff"/>
<rect x="550" y="492" width="3" height="10" fill="#0000ff"/>
<rect x="554" y="493" width="3" height="9" fill="#0000ff"/>
<rect x="558" y="493" width="3" height="9" fill="#0000ff"/>
<rect x="562" y="494" width="3" height="8" fill="#0000ff"/>
<rect x="566" y="494" width="3" height="8" fill="#0000ff"/>
<rect x="570" y="495" width="3" height="7" fill="#0000ff"/>
<rect x="574" y="496" width="3" height="6" fill="#0000ff"/>
<rect x="578" y="496" width="3" height="6" fill="#0000ff"/>
<rect x="582" y="496" width="3" height="6" fill="#0000ff"/>
<rect x="586" y="496" width="3" height="6" fill="#0000ff"/>
<rect x="590" y="496" width="3" height="6" fill="#0000ff"/>
<rect x="594" y="496" width="3" height="6" fill="#0000ff"/>
<rect x="598" y="496" width="3" height="6" fill="#0000ff"/>
<rect x="602" y="497" width="3" height="5" fill="#0000ff"/>
<rect x="606" y="497" width="3" height="5" fill="#0000ff"/>
<rect x="610" y="498" width="3" height="4" fill="#0000ff"/>
</g>
<line x1="4" y1="502.5" x2="636" y2="502.5" stroke="#c0c0c0" stroke-width="1" stroke-dasharray="3,3" shape-rendering="crispEdges"/>
<clipPath id="dashx"><rect x="3" y="478" width="3" height="60"/><rect x="9" y="478" width="3" height="60"/><rect x="15" y="478" width="3" height="60"/><rect x="21" y="478" width="3" height="60"/><rect x="27" y="478" width="3" height="60"/><rect x="33" y="478" width="3" height="60"/><rect x="39" y="478" width="3" height="60"/><rect x="45" y="478" width="3" height="60"/><rect x="51" y="478" width="3" height="60"/><rect x="57" y="478" width="3" height="60"/><rect x="63" y="478" width="3" height="60"/><rect x="69" y="478" width="3" height="60"/><rect x="75" y="478" width="3" height="60"/><rect x="81" y="478" width="3" height="60"/><rect x="87" y="478" width="3" height="60"/><rect x="93" y="478" width="3" height="60"/><rect x="99" y="478" width="3" height="60"/><rect x="105" y="478" width="3" height="60"/><rect x="111" y="478" width="3" height="60"/><rect x="117" y="478" width="3" height="60"/><rect x="123" y="478" width="3" height="60"/><rect x="129" y="478" width="3" height="60"/><rect x="135" y="478" width="3" height="60"/><rect x="141" y="478" width="3" height="60"/><rect x="147" y="478" width="3" height="60"/><rect x="153" y="478" width="3" height="60"/><rect x="159" y="478" width="3" height="60"/><rect x="165" y="478" width="3" height="60"/><rect x="171" y="478" width="3" height="60"/><rect x="177" y="478" width="3" height="60"/><rect x="183" y="478" width="3" height="60"/><rect x="189" y="478" width="3" height="60"/><rect x="195" y="478" width="3" height="60"/><rect x="201" y="478" width="3" height="60"/><rect x="207" y="478" width="3" height="60"/><rect x="213" y="478" width="3" height="60"/><rect x="219" y="478" width="3" height="60"/><rect x="225" y="478" width="3" height="60"/><rect x="231" y="478" width="3" height="60"/><rect x="237" y="478" width="3" height="60"/><rect x="243" y="478" width="3" height="60"/><rect x="249" y="478" width="3" height="60"/><rect x="255" y="478" width="3" height="60"/><rect x="261" y="478" width="3" height="60"/><rect x="267" y="478" width="3" height="60"/><rect x="273" y="478" width="3" height="60"/><rect x="279" y="478" width="3" height="60"/><rect x="285" y="478" width="3" height="60"/><rect x="291" y="478" width="3" height="60"/><rect x="297" y="478" width="3" height="60"/><rect x="303" y="478" width="3" height="60"/><rect x="309" y="478" width="3" height="60"/><rect x="315" y="478" width="3" height="60"/><rect x="321" y="478" width="3" height="60"/><rect x="327" y="478" width="3" height="60"/><rect x="333" y="478" width="3" height="60"/><rect x="339" y="478" width="3" height="60"/><rect x="345" y="478" width="3" height="60"/><rect x="351" y="478" width="3" height="60"/><rect x="357" y="478" width="3" height="60"/><rect x="363" y="478" width="3" height="60"/><rect x="369" y="478" width="3" height="60"/><rect x="375" y="478" width="3" height="60"/><rect x="381" y="478" width="3" height="60"/><rect x="387" y="478" width="3" height="60"/><rect x="393" y="478" width="3" height="60"/><rect x="399" y="478" width="3" height="60"/><rect x="405" y="478" width="3" height="60"/><rect x="411" y="478" width="3" height="60"/><rect x="417" y="478" width="3" height="60"/><rect x="423" y="478" width="3" height="60"/><rect x="429" y="478" width="3" height="60"/><rect x="435" y="478" width="3" height="60"/><rect x="441" y="478" width="3" height="60"/><rect x="447" y="478" width="3" height="60"/><rect x="453" y="478" width="3" height="60"/><rect x="459" y="478" width="3" height="60"/><rect x="465" y="478" width="3" height="60"/><rect x="471" y="478" width="3" height="60"/><rect x="477" y="478" width="3" height="60"/><rect x="483" y="478" width="3" height="60"/><rect x="489" y="478" width="3" height="60"/><rect x="495" y="478" width="3" height="60"/><rect x="501" y="478" width="3" height="60"/><rect x="507" y="478" width="3" height="60"/><rect x="513" y="478" width="3" height="60"/><rect x="519" y="478" width="3" height="60"/><rect x="525" y="478" width="3" height="60"/><rect x="531" y="478" width="3" height="60"/><rect x="537" y="478" width="3" height="60"/><rect x="543" y="478" width="3" height="60"/><rect x="549" y="478" width="3" height="60"/><rect x="555" y="478" width="3" height="60"/><rect x="561" y="478" width="3" height="60"/><rect x="567" y="478" width="3" height="60"/><rect x="573" y="478" width="3" height="60"/><rect x="579" y="478" width="3" height="60"/><rect x="585" y="478" width="3" height="60"/><rect x="591" y="478" width="3" height="60"/><rect x="597" y="478" width="3" height="60"/><rect x="603" y="478" width="3" height="60"/><rect x="609" y="478" width="3" height="60"/><rect x="615" y="478" width="3" height="60"/></clipPath>
<g shape-rendering="crispEdges" clip-path="url(#dashx)">
<polyline points="3.0,491.5 10.0,492.6 17.0,493.4 25.7,494.3 34.0,495.0 43.0,496.5 51.4,498.2 52.5,498.5 58.5,500.0 64.5,501.5 70.5,503.0 76.5,503.5 82.5,504.5 88.5,504.5 94.5,505.5 100.5,505.5 106.5,505.5 112.5,506.5 118.5,506.5 124.5,508.0 130.5,511.0 136.5,514.0 142.5,518.5 148.5,523.0 154.5,526.5 160.5,529.5 166.5,531.0 172.5,531.0 178.6,529.5 185.4,527.5 191.0,525.0 196.5,524.0 202.5,522.5 208.5,520.0 214.5,518.5 220.5,517.0 226.5,515.0 232.5,513.0 238.5,510.5 245.0,507.5 250.5,506.5 256.5,504.0 261.5,502.5 268.5,501.0 274.5,499.5 280.5,498.0 286.5,496.5 292.5,496.0 298.5,495.5 305.0,495.5 310.5,496.0 316.5,496.5 322.5,497.0 328.5,497.5 334.5,498.5 346.5,498.5 352.5,498.0 358.5,497.5 364.5,496.5 370.5,495.5 402.0,495.5 405.0,495.8 410.0,496.5 418.0,497.0 424.5,497.5 430.5,498.5 436.5,499.5 442.5,500.0 448.5,500.5 454.5,500.5 460.5,500.0 466.5,498.5 472.5,497.0 478.5,495.5 484.0,494.0 490.5,491.5 496.5,490.0 502.5,488.5 508.5,487.0 514.5,486.5 520.5,485.5 532.5,485.5 538.5,486.0 544.5,487.5 550.5,488.0 556.5,489.5 562.5,491.0 568.5,492.5 574.5,493.5 580.5,494.5 586.5,495.0 592.5,495.5 598.5,496.0 604.5,496.5 612.0,496.5" fill="none" stroke="#ff0000" stroke-width="1" />
</g>
<g shape-rendering="crispEdges">
<rect x="2" y="2" width="635" height="1" fill="#000"/>
<rect x="2" y="330" width="635" height="1" fill="#000"/>
<rect x="2" y="2" width="1" height="329" fill="#000"/>
<rect x="636" y="2" width="1" height="329" fill="#000"/>
<rect x="2" y="332" width="635" height="1" fill="#000"/>
<rect x="2" y="396" width="635" height="1" fill="#000"/>
<rect x="2" y="332" width="1" height="65" fill="#000"/>
<rect x="636" y="332" width="1" height="65" fill="#000"/>
<rect x="2" y="398" width="635" height="1" fill="#000"/>
<rect x="2" y="477" width="635" height="1" fill="#000"/>
<rect x="2" y="398" width="1" height="80" fill="#000"/>
<rect x="636" y="398" width="1" height="80" fill="#000"/>
<rect x="2" y="479" width="635" height="1" fill="#000"/>
<rect x="2" y="536" width="635" height="1" fill="#000"/>
<rect x="2" y="479" width="1" height="58" fill="#000"/>
<rect x="636" y="479" width="1" height="58" fill="#000"/>
</g>
<g shape-rendering="crispEdges">
<rect x="637" y="17" width="2" height="1" fill="#000"/>
<rect x="637" y="66" width="2" height="1" fill="#000"/>
<rect x="637" y="115" width="2" height="1" fill="#000"/>
<rect x="637" y="164" width="2" height="1" fill="#000"/>
<rect x="637" y="213" width="2" height="1" fill="#000"/>
<rect x="637" y="262" width="2" height="1" fill="#000"/>
<rect x="637" y="311" width="2" height="1" fill="#000"/>
<rect x="637" y="334" width="1" height="1" fill="#000"/>
<rect x="637" y="395" width="1" height="1" fill="#000"/>
<rect x="637" y="400" width="1" height="1" fill="#000"/>
<rect x="637" y="476" width="1" height="1" fill="#000"/>
<rect x="637" y="481" width="1" height="1" fill="#000"/>
<rect x="637" y="502" width="1" height="1" fill="#000"/>
<rect x="637" y="535" width="1" height="1" fill="#000"/>
<rect x="3" y="537" width="1" height="3" fill="#000"/>
<rect x="99" y="537" width="1" height="3" fill="#000"/>
<rect x="195" y="537" width="1" height="3" fill="#000"/>
<rect x="291" y="537" width="1" height="3" fill="#000"/>
<rect x="387" y="537" width="1" height="3" fill="#000"/>
<rect x="483" y="537" width="1" height="3" fill="#000"/>
<rect x="579" y="537" width="1" height="3" fill="#000"/>
</g>
<polygon points="5.7,10 15.2,10 10.45,15.2" fill="#000"/>
<text x="20.8" y="17" fill="#000" textLength="72.4" lengthAdjust="spacingAndGlyphs">XAUUSD,M30</text>
<text x="102.6" y="17" fill="#000" textLength="44.8" lengthAdjust="spacingAndGlyphs">1716.01</text>
<text x="152.4" y="17" fill="#000" textLength="44.8" lengthAdjust="spacingAndGlyphs">1716.16</text>
<text x="202.6" y="17" fill="#000" textLength="44.8" lengthAdjust="spacingAndGlyphs">1715.30</text>
<text x="252.6" y="17" fill="#000" textLength="44.8" lengthAdjust="spacingAndGlyphs">1715.49</text>
<text x="643.4" y="21.700000000000003" fill="#000" textLength="44.6" lengthAdjust="spacingAndGlyphs">1746.30</text>
<text x="643.4" y="70.7" fill="#000" textLength="44.6" lengthAdjust="spacingAndGlyphs">1734.10</text>
<text x="643.4" y="168.70000000000002" fill="#000" textLength="44.6" lengthAdjust="spacingAndGlyphs">1709.50</text>
<text x="643.4" y="217.70000000000002" fill="#000" textLength="44.6" lengthAdjust="spacingAndGlyphs">1697.10</text>
<text x="643.4" y="266.7" fill="#000" textLength="44.6" lengthAdjust="spacingAndGlyphs">1684.90</text>
<text x="643.4" y="315.7" fill="#000" textLength="44.6" lengthAdjust="spacingAndGlyphs">1672.50</text>
<rect x="638" y="133" width="56" height="13.7" fill="#000"/>
<text x="643.4" y="144.70000000000002" fill="#fff" textLength="44.6" lengthAdjust="spacingAndGlyphs">1715.49</text>
<rect x="638" y="101" width="56" height="26.8" fill="#ff0000"/>
<rect x="638" y="140" width="56" height="27.6" fill="#008000"/>
<rect x="638" y="101" width="56" height="13.7" fill="#ff0000"/>
<text x="643.4" y="112.7" fill="#fff" textLength="44.6" lengthAdjust="spacingAndGlyphs">1723.76</text>
<rect x="638" y="114" width="56" height="13.7" fill="#ff0000"/>
<text x="643.4" y="125.7" fill="#fff" textLength="44.6" lengthAdjust="spacingAndGlyphs">1720.43</text>
<rect x="638" y="140" width="56" height="13.7" fill="#008000"/>
<text x="643.4" y="151.70000000000002" fill="#fff" textLength="44.6" lengthAdjust="spacingAndGlyphs">1714.07</text>
<rect x="638" y="154" width="56" height="13.7" fill="#008000"/>
<text x="643.4" y="165.70000000000002" fill="#fff" textLength="44.6" lengthAdjust="spacingAndGlyphs">1710.44</text>
<rect x="638" y="174" width="56" height="13.7" fill="#008000"/>
<text x="643.4" y="185.70000000000002" fill="#fff" textLength="44.6" lengthAdjust="spacingAndGlyphs">1705.44</text>
<text x="640" y="346.0" fill="#000">100</text>
<text x="640" y="356.79999999999995" fill="#000">70</text>
<text x="640" y="368.79999999999995" fill="#000">50</text>
<text x="640" y="381.79999999999995" fill="#000">30</text>
<text x="640" y="392.79999999999995" fill="#000">0</text>
<text x="640" y="412.4" fill="#000">100</text>
<text x="640" y="419.79999999999995" fill="#000">80</text>
<text x="640" y="442.79999999999995" fill="#000">50</text>
<text x="640" y="465.79999999999995" fill="#000">20</text>
<text x="640" y="473.79999999999995" fill="#000">0</text>
<text x="640" y="492.9" fill="#000">6.056</text>
<text x="640" y="533.4" fill="#000">-9.604</text>
<text x="640" y="506.79999999999995" fill="#000">0.00</text>
<text x="640.8" y="506.79999999999995" fill="#000">0</text>
<text x="7.3" y="348" fill="#000" textLength="41.2" lengthAdjust="spacingAndGlyphs">RSI(14)</text>
<text x="53" y="348" fill="#000" textLength="44.8" lengthAdjust="spacingAndGlyphs">53.0481</text>
<text x="106.6" y="348" fill="#000" textLength="48" lengthAdjust="spacingAndGlyphs">-&gt;MA(9)</text>
<text x="158.7" y="348" fill="#000" textLength="44.4" lengthAdjust="spacingAndGlyphs">55.5254</text>
<text x="7.2" y="413.8" fill="#000" textLength="70.8" lengthAdjust="spacingAndGlyphs">Stoch(5,3,3)</text>
<text x="82.5" y="413.8" fill="#000" textLength="44.8" lengthAdjust="spacingAndGlyphs">21.5920</text>
<text x="132.3" y="413.8" fill="#000" textLength="44.8" lengthAdjust="spacingAndGlyphs">32.5083</text>
<text x="7.7" y="495.5" fill="#000" textLength="84" lengthAdjust="spacingAndGlyphs">MACD(12,26,9)</text>
<text x="96.9" y="495.5" fill="#000" textLength="31" lengthAdjust="spacingAndGlyphs">1.203</text>
<text x="133" y="495.5" fill="#000" textLength="30.6" lengthAdjust="spacingAndGlyphs">1.562</text>
<text x="3" y="552.4" fill="#000" textLength="60.5" lengthAdjust="spacingAndGlyphs">4 Jun 2020</text>
<text x="98.5" y="552.4" fill="#000" textLength="65.5" lengthAdjust="spacingAndGlyphs">5 Jun 12:30</text>
<text x="195" y="552.4" fill="#000" textLength="65.5" lengthAdjust="spacingAndGlyphs">8 Jun 01:30</text>
<text x="291" y="552.4" fill="#000" textLength="65.5" lengthAdjust="spacingAndGlyphs">8 Jun 13:30</text>
<text x="387" y="552.4" fill="#000" textLength="65.5" lengthAdjust="spacingAndGlyphs">9 Jun 02:30</text>
<text x="483" y="552.4" fill="#000" textLength="65.5" lengthAdjust="spacingAndGlyphs">9 Jun 14:30</text>
<text x="578.6" y="552.4" fill="#000" textLength="72" lengthAdjust="spacingAndGlyphs">10 Jun 03:30</text>
</svg>
</body></html>
